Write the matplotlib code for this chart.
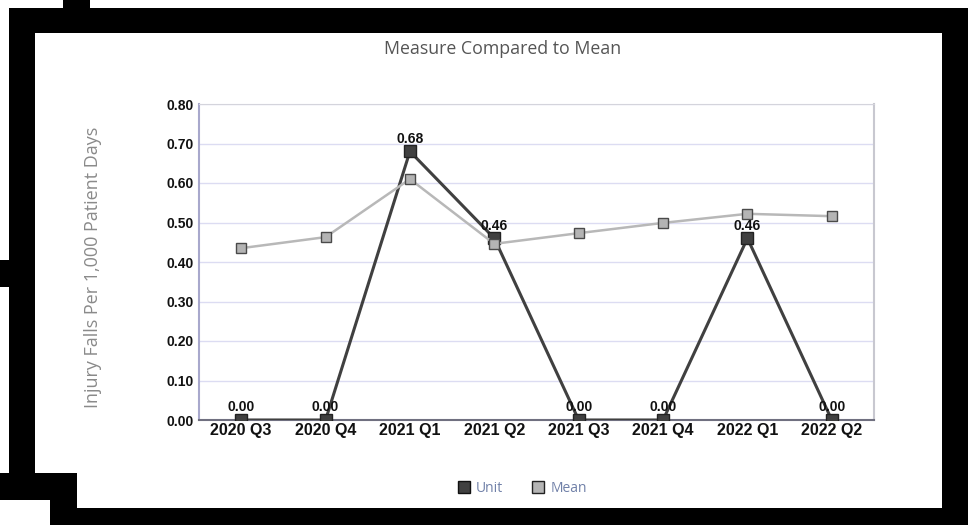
import matplotlib.pyplot as plt
from matplotlib.patches import Rectangle
from matplotlib.lines import Line2D

quarters = ['2020 Q3', '2020 Q4', '2021 Q1', '2021 Q2',
            '2021 Q3', '2021 Q4', '2022 Q1', '2022 Q2']
unit = [0.00, 0.00, 0.68, 0.46, 0.00, 0.00, 0.46, 0.00]
mean = [0.435, 0.463, 0.61, 0.446, 0.473, 0.499, 0.522, 0.516]
yticks = [0.0, 0.1, 0.2, 0.3, 0.4, 0.5, 0.6, 0.7, 0.8]

W, H = 973, 525
fig = plt.figure(figsize=(W / 100, H / 100), dpi=100)
fig.patch.set_facecolor('white')

# black frame pieces, pixel boxes (x0, y0 from top, x1, y1)
frame = [
    (63, 0, 90, 8),
    (9, 8, 968, 33),
    (9, 8, 35, 473),
    (0, 260, 35, 287),
    (0, 473, 77, 500),
    (50, 473, 77, 525),
    (50, 508, 968, 525),
    (942, 8, 968, 525),
]
for x0, y0, x1, y1 in frame:
    fig.add_artist(Rectangle((x0 / W, 1 - y1 / H), (x1 - x0) / W, (y1 - y0) / H,
                             transform=fig.transFigure, facecolor='black',
                             edgecolor='none', zorder=0))

ax = fig.add_axes([199 / W, 1 - 420 / H, 675 / W, 316 / H])
x = list(range(len(quarters)))

ax.plot(x, unit, color='#404040', lw=2.2, marker='s', ms=8,
        mfc='#404040', mec='#222222', mew=1, zorder=3)
ax.plot(x, mean, color='#b8b8b8', lw=1.8, marker='s', ms=7.5,
        mfc='#b4b4b4', mec='#4a4a4a', mew=1, zorder=4)

for xi, v in zip(x, unit):
    ax.annotate(f'{v:.2f}', (xi, v), xytext=(0, 4), textcoords='offset points',
                ha='center', va='bottom', fontsize=10, fontweight='bold',
                family='Liberation Sans', color='#111111', zorder=6)

ax.set_xlim(-0.5, 7.5)
ax.set_ylim(0, 0.8)
ax.set_yticks(yticks)
ax.set_yticklabels([f'{t:.2f}' for t in yticks], fontsize=10,
                   fontweight='bold', family='Liberation Sans')
ax.set_xticks(x)
ax.set_xticklabels(quarters, fontsize=11.5, fontweight='bold',
                   family='Liberation Sans')
ax.tick_params(length=0, pad=4, colors='#111111')
ax.tick_params(axis='x', pad=2)
ax.grid(axis='y', color='#dcdcf2', lw=1)
ax.set_axisbelow(True)
ax.spines['left'].set_color('#a8a8cc')
ax.spines['left'].set_linewidth(1.5)
ax.spines['bottom'].set_color('#707080')
ax.spines['bottom'].set_linewidth(1.5)
ax.spines['top'].set_color('#d4d4dc')
ax.spines['right'].set_color('#c8c8d0')
ax.spines['right'].set_linewidth(1.5)

fig.text(503 / W, 1 - 49 / H, 'Measure Compared to Mean', ha='center',
         va='center', fontsize=12.8, family='Open Sans', color='#555555')
fig.text(93 / W, 1 - 267 / H, 'Injury Falls Per 1,000 Patient Days',
         rotation=90, ha='center', va='center', fontsize=13,
         family='Open Sans', color='#8a8a8a')

handles = [
    Line2D([], [], ls='none', marker='s', ms=9, mfc='#404040', mec='#111111', mew=1),
    Line2D([], [], ls='none', marker='s', ms=9, mfc='#b4b4b4', mec='#222222', mew=1),
]
leg = fig.legend(handles, ['Unit', 'Mean'], loc='center',
                 bbox_to_anchor=(522 / W, 1 - 488 / H), ncol=2, frameon=False,
                 handlelength=1, handletextpad=0.4, columnspacing=2.0,
                 prop={'family': 'Open Sans', 'size': 10})
for t in leg.get_texts():
    t.set_color('#7080a8')

fig.savefig('out.png', dpi=100, facecolor='white')
